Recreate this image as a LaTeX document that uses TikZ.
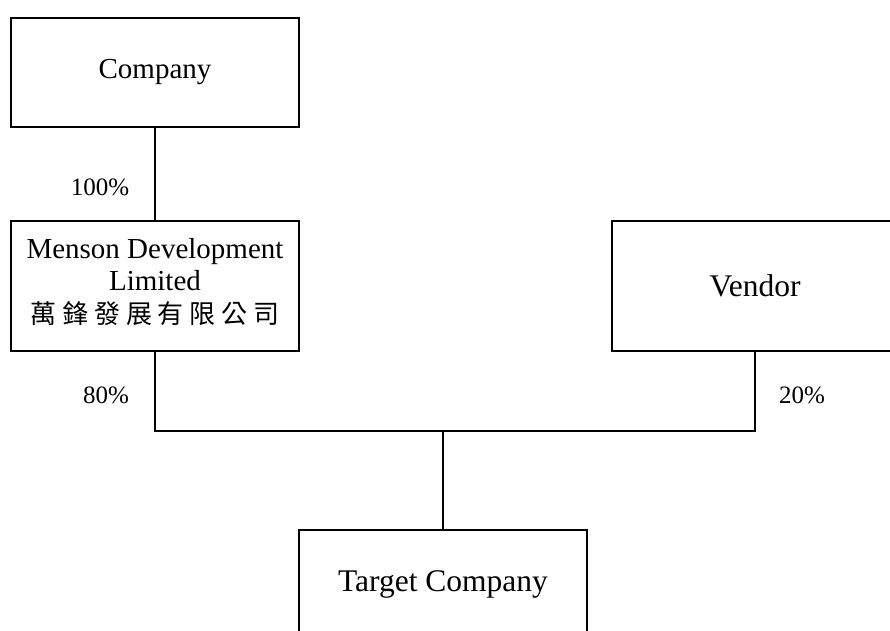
\documentclass[tikz,border=0pt]{standalone}
\usepackage{fontspec}
\setmainfont{Liberation Serif}
\newfontfamily\cjkfont[LetterSpace=22]{Noto Sans CJK TC}
\begin{document}
\begin{tikzpicture}[x=1pt,y=-1pt,
  orgbox/.style={draw,line width=1.6pt,inner sep=0pt,align=center},
  conn/.style={line width=1.6pt},
  pct/.style={inner sep=0pt,font=\fontsize{25}{30}\selectfont}]
\clip (0,0) rectangle (890,630);
\fill[white] (0,0) rectangle (890,630);
\node[orgbox,minimum width=288pt,minimum height=109pt,font=\fontsize{29}{33}\selectfont] (company) at (155,72.5) {Company};
\node[orgbox,minimum width=288pt,minimum height=130pt,font=\fontsize{29}{32.5}\selectfont] (menson) at (155,286) {};
\node[inner sep=0pt,align=center,font=\fontsize{29}{32.5}\selectfont] (mensontext) at (155,282) {Menson Development\\Limited\\{\cjkfont\fontsize{26}{32.5}\selectfont 萬鋒發展有限公司}};
\node[orgbox,minimum width=286pt,minimum height=130pt,font=\fontsize{31.5}{36}\selectfont] (vendor) at (755,286) {Vendor};
\node[orgbox,minimum width=288pt,minimum height=109pt,font=\fontsize{31.5}{36}\selectfont] (target) at (443,584.5) {Target Company};
\coordinate (j1) at (155,431);
\coordinate (j2) at (755,431);
\coordinate (j3) at (443,431);
\draw[conn] (company.south) -- (menson.north);
\draw[conn] (menson.south) -- (j1) -- (j2) -- (vendor.south);
\draw[conn] (j3) -- (target.north);
\node[pct] (p100) at (100,187) {100\%};
\node[pct] (p80) at (106,395) {80\%};
\node[pct] (p20) at (802,395) {20\%};
\end{tikzpicture}
\end{document}
